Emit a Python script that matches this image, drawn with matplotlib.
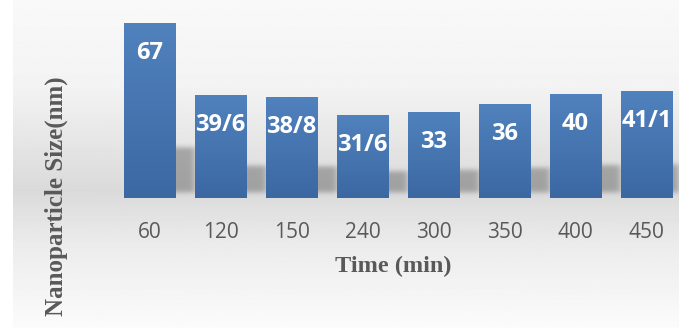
import numpy as np
import matplotlib
matplotlib.use("Agg")
import matplotlib.pyplot as plt

# data
times = ["60", "120", "150", "240", "300", "350", "400", "450"]
sizes = [67, 39.6, 38.8, 31.6, 33, 36, 40, 41.1]
size_labels = ["67", "39/6", "38/8", "31/6", "33", "36", "40", "41/1"]

W, H = 679, 328
fig = plt.figure(figsize=(W / 100, H / 100), dpi=100)
fig.patch.set_facecolor("white")

# background: vertical grey gradient, starts a bit in from the left edge
bg = fig.add_axes([13 / W, 0, 1 - 13 / W, 1], zorder=0)
yy = np.linspace(0, 1, 300)
stops_y = [0.0, 0.25, 0.42, 0.58, 0.75, 1.0]
stops_v = [0.975, 0.955, 0.905, 0.855, 0.925, 0.985]
grad = np.interp(yy, stops_y, stops_v)[::-1]
bg.imshow(np.tile(grad[:, None], (1, 2)), cmap="gray", vmin=0, vmax=1,
          aspect="auto", extent=[0, 1, 0, 1], origin="lower")
bg.axis("off")

ax = fig.add_axes([114 / W, 130 / H, 564.5 / W, 195.9 / H], zorder=1)
ax.set_facecolor("none")
x = np.arange(len(times))
width = 51 / 71

# soft shadow behind bars
nx, ny = 600, 300
gx = np.linspace(-0.5, 7.45, nx)
gy = np.linspace(-3, 75, ny)
mask = np.zeros((ny, nx))
for xi, h in zip(x, sizes):
    sx = (gx >= xi - width / 2 + 0.12) & (gx <= xi + width / 2 + 0.28)
    sy = (gy >= 2.0) & (gy <= 0.26 * h + 2.0)
    mask[np.ix_(sy, sx)] = 1.0
k = np.exp(-0.5 * (np.arange(-12, 13) / 3.5) ** 2)
k /= k.sum()
mask = np.apply_along_axis(lambda r: np.convolve(r, k, mode="same"), 1, mask)
mask = np.apply_along_axis(lambda c: np.convolve(c, k, mode="same"), 0, mask)
shadow = np.zeros((ny, nx, 4))
shadow[..., :3] = 0.45
shadow[..., 3] = mask * 0.55
ax.imshow(shadow, extent=[-0.5, 7.45, -3, 75], origin="lower", aspect="auto",
          zorder=1, interpolation="bilinear")

# bars with a light top-to-bottom gradient
bars = ax.bar(x, sizes, width=width, color="#4677b3", zorder=2)
top_c = np.array([0x50, 0x82, 0xbe]) / 255
bot_c = np.array([0x3c, 0x68, 0xa2]) / 255
for b in bars:
    h = b.get_height()
    t = np.linspace(0, 1, 100)[:, None]
    img = (bot_c * (1 - t) + top_c * t)[:, None, :]
    im = ax.imshow(img, extent=[b.get_x(), b.get_x() + b.get_width(), 0, h],
                   origin="lower", aspect="auto", zorder=3)
    im.set_clip_path(b)

for xi, h, lab in zip(x, sizes, size_labels):
    ax.annotate(lab, (xi, h), xytext=(0, -21.6), textcoords="offset points",
                ha="center", va="center", color="white", fontsize=17,
                fontweight="bold", family="Open Sans", zorder=4)

ax.set_xticks(x)
ax.set_xticklabels(times, fontsize=15, color="#595959", family="Open Sans")
ax.tick_params(axis="x", length=0, pad=17)
ax.set_yticks([])
for s in ax.spines.values():
    s.set_visible(False)
ax.set_ylim(0, 75)
ax.set_xlim(-0.5, 7.45)

fig.text(393 / W, 1 - 266 / H, "Time (min)", ha="center", va="center",
         fontsize=17.5, fontweight="bold", color="#595959", family="Liberation Serif")
fig.text(56 / W, 1 - 76 / H, "Nanoparticle Size(nm)", rotation=90, ha="center",
         va="top", fontsize=18, fontweight="bold", color="#595959",
         family="Liberation Serif")

fig.savefig("out.png", dpi=100)
